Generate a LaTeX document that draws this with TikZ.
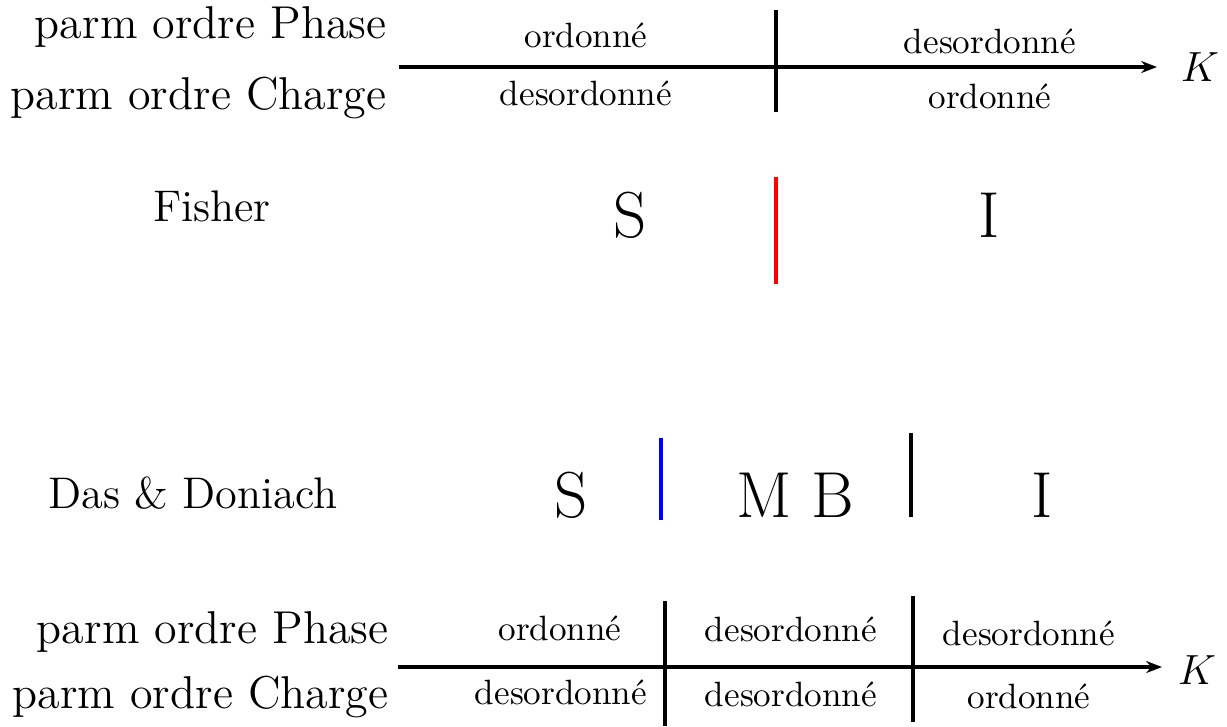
\documentclass[tikz,border=0pt]{standalone}
\usepackage{tikz}
\usetikzlibrary{arrows.meta}

\begin{document}
\begin{tikzpicture}[>={Stealth[length=4.5pt,width=3.4pt]},line width=0.9pt,inner sep=0pt,font=\fontsize{13.1}{15}\selectfont]
\tikzset{etat/.style={font=\normalsize},phase/.style={font=\fontsize{18.5}{21}\selectfont},
  modele/.style={font=\fontsize{12.6}{15}\selectfont}}
\useasboundingbox (0,0) rectangle (12.27,-7.26);
% top axis
\node[anchor=east] (Pa) at (3.88,-0.27) {parm ordre Phase};
\node[anchor=east] (Ca) at (3.88,-0.98) {parm ordre Charge};
\coordinate (A0) at (3.99,-0.67);
\coordinate (A1) at (11.57,-0.67);
\draw[->] (A0) -- (A1);
\node (Ka) at (12.00,-0.67) {$K$};
\coordinate (TaT) at (7.76,-0.10);
\coordinate (TaB) at (7.76,-1.12);
\draw (TaT) -- (TaB);
\node[etat] (a1) at (5.86,-0.35) {ordonné};
\node[etat] (a2) at (5.86,-0.93) {desordonné};
\node[etat] (a3) at (9.90,-0.41) {desordonné};
\node[etat] (a4) at (9.90,-0.96) {ordonné};
% Fisher
\node[modele] (F) at (2.12,-2.06) {Fisher};
\node[phase] (FS) at (6.30,-2.15) {S};
\node[phase] (FI) at (9.89,-2.15) {I};
\coordinate (FrT) at (7.76,-1.77);
\coordinate (FrB) at (7.76,-2.84);
\draw[red] (FrT) -- (FrB);
% Das & Doniach
\node[modele] (DD) at (1.93,-4.93) {Das \& Doniach};
\node[phase] (DS) at (5.71,-4.95) {S};
\node[phase] (DM) at (7.95,-4.95) {M B};
\node[phase] (DI) at (10.42,-4.95) {I};
\coordinate (DbT) at (6.61,-4.38);
\coordinate (DbB) at (6.61,-5.20);
\draw[blue] (DbT) -- (DbB);
\coordinate (DkT) at (9.11,-4.33);
\coordinate (DkB) at (9.11,-5.17);
\draw (DkT) -- (DkB);
% bottom axis
\node[anchor=east] (Pb) at (3.90,-6.32) {parm ordre Phase};
\node[anchor=east] (Cb) at (3.90,-6.97) {parm ordre Charge};
\coordinate (B0) at (3.98,-6.67);
\coordinate (B1) at (11.62,-6.67);
\draw[->] (B0) -- (B1);
\node (Kb) at (11.97,-6.70) {$K$};
\coordinate (T1T) at (6.65,-6.01);
\coordinate (T1B) at (6.65,-7.26);
\draw (T1T) -- (T1B);
\coordinate (T2T) at (9.13,-5.96);
\coordinate (T2B) at (9.13,-7.22);
\draw (T2T) -- (T2B);
\node[etat] (b1) at (5.60,-6.28) {ordonné};
\node[etat] (b2) at (7.91,-6.29) {desordonné};
\node[etat] (b3) at (10.29,-6.33) {desordonné};
\node[etat] (b4) at (5.61,-6.92) {desordonné};
\node[etat] (b5) at (7.91,-6.94) {desordonné};
\node[etat] (b6) at (10.29,-6.96) {ordonné};
\end{tikzpicture}
\end{document}
